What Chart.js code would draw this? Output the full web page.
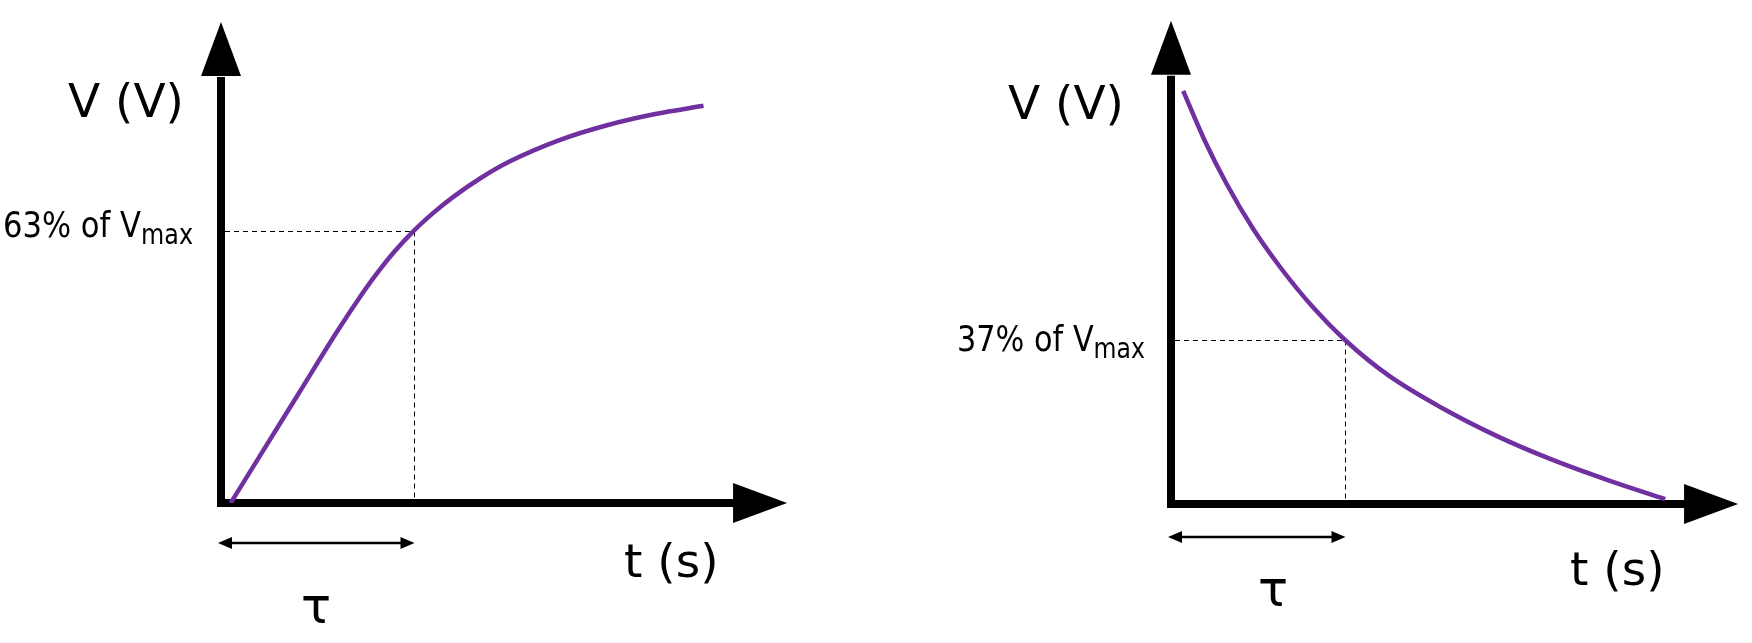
<!DOCTYPE html>
<html><head><meta charset="utf-8">
<script src="https://cdn.jsdelivr.net/npm/chart.js@4.4.1/dist/chart.umd.min.js"></script>
<style>
html,body{margin:0;padding:0;background:#fff;}
#wrap{position:relative;width:1752px;height:643px;background:#fff;}
.c{position:absolute;top:0;width:876px;height:643px;}
</style></head><body>
<div id="wrap">
<div class="c" style="left:0"><canvas id="c1" width="876" height="643"></canvas></div>
<div class="c" style="left:876px"><canvas id="c2" width="876" height="643"></canvas></div>
</div>
<script>
// ---- data (t in units of tau, V in % of Vmax) ----
const chargeT = [0.05, 0.20, 0.40, 0.60, 0.70, 0.80, 0.90, 1.00, 1.10, 1.20, 1.35, 1.50, 1.75, 2.00, 2.25, 2.50];
const chargeV = [0, 10.8, 25.2, 39.6, 46.4, 52.7, 58.3, 63.1, 67.2, 70.8, 75.4, 79.2, 84.0, 87.5, 90.1, 92.0];
const dischargeT = [0.07, 0.19, 0.32, 0.47, 0.63, 0.82, 1.00, 1.25, 1.56, 1.88, 2.19, 2.51, 2.84];
const dischargeV = [93.2, 82.3, 72.2, 62.2, 53.3, 44.2, 37.0, 29.0, 21.6, 15.2, 10.0, 5.4, 1.1];
const tauValue = [1, 1];
const markLevels = [63, 37];
const yTitle = 'V (V)';
const xTitle = 't (s)';
const tauLabel = 'τ';
const markLabels = ['63% of V', '37% of V'];
const markSub = 'max';

const PURPLE = '#7030A0';
const FONT = '"DejaVu Sans", Verdana, sans-serif';

function diagramPlugin(cfg) {
  return {
    id: 'diagram',
    beforeDatasetsDraw(chart) {
      const ctx = chart.ctx, xs = chart.scales.x, ys = chart.scales.y;
      const ox = xs.getPixelForValue(0), oy = ys.getPixelForValue(0);
      const tx = Math.round(xs.getPixelForValue(cfg.tau)) + 0.5;
      const ly = Math.round(ys.getPixelForValue(cfg.level)) + 0.5;
      ctx.save();
      // dashed guides
      ctx.strokeStyle = '#000';
      ctx.lineWidth = 1;
      ctx.setLineDash([5, 4]);
      ctx.beginPath();
      ctx.moveTo(ox + 4, ly); ctx.lineTo(tx, ly);
      ctx.stroke();
      ctx.beginPath();
      ctx.moveTo(tx, ly); ctx.lineTo(tx, oy - 4);
      ctx.stroke();
      ctx.setLineDash([]);
      // axes
      const yBase = ys.getPixelForValue(cfg.yTip) + 54;
      const xBase = xs.getPixelForValue(cfg.xTip) - 54;
      ctx.fillStyle = '#000';
      ctx.strokeStyle = '#000';
      ctx.lineWidth = 8;
      ctx.lineCap = 'butt';
      ctx.beginPath();
      ctx.moveTo(ox, oy + 4); ctx.lineTo(ox, yBase + 1);
      ctx.moveTo(ox - 4, oy); ctx.lineTo(xBase + 1, oy);
      ctx.stroke();
      // arrowheads
      ctx.beginPath();
      ctx.moveTo(ox, yBase - 54); ctx.lineTo(ox - 20, yBase); ctx.lineTo(ox + 20, yBase); ctx.closePath();
      ctx.fill();
      ctx.beginPath();
      ctx.moveTo(xBase + 54, oy); ctx.lineTo(xBase, oy - 20); ctx.lineTo(xBase, oy + 20); ctx.closePath();
      ctx.fill();
      // tau double arrow
      const ay = oy + cfg.arrowOffset;
      const ax0 = ox - 3, ax1 = tx;
      ctx.lineWidth = 2.5;
      ctx.beginPath();
      ctx.moveTo(ax0 + 8, ay); ctx.lineTo(ax1 - 8, ay);
      ctx.stroke();
      ctx.beginPath();
      ctx.moveTo(ax0, ay); ctx.lineTo(ax0 + 14, ay - 6); ctx.lineTo(ax0 + 14, ay + 6); ctx.closePath();
      ctx.fill();
      ctx.beginPath();
      ctx.moveTo(ax1, ay); ctx.lineTo(ax1 - 14, ay - 6); ctx.lineTo(ax1 - 14, ay + 6); ctx.closePath();
      ctx.fill();
      ctx.restore();
    },
    afterDatasetsDraw(chart) {
      const ctx = chart.ctx;
      const t = cfg.text;
      ctx.save();
      ctx.fillStyle = '#000';
      ctx.textBaseline = 'alphabetic';
      ctx.textAlign = 'left';
      ctx.font = '47px ' + FONT;
      ctx.fillText(yTitle, t.yLabel[0], t.yLabel[1]);
      ctx.fillText(xTitle, t.xLabel[0], t.xLabel[1]);
      ctx.font = '50px ' + FONT;
      ctx.textAlign = 'center';
      ctx.fillText(tauLabel, t.tau[0], t.tau[1]);
      // percentage label with subscript, fitted to width
      ctx.textAlign = 'left';
      const mainF = '36px ' + FONT, subF = '28px ' + FONT;
      ctx.font = mainF; const w1 = ctx.measureText(cfg.mark).width;
      ctx.font = subF; const w2 = ctx.measureText(markSub).width;
      const sx = t.markWidth / (w1 + w2);
      ctx.translate(t.mark[0], t.mark[1]);
      ctx.scale(sx, 1);
      ctx.font = mainF; ctx.fillText(cfg.mark, 0, 0);
      ctx.font = subF; ctx.fillText(markSub, w1, 7);
      ctx.restore();
    }
  };
}

function makeChart(id, T, V, cfg) {
  return new Chart(document.getElementById(id), {
    type: 'line',
    data: {
      datasets: [{
        data: T.map((t, i) => ({ x: t, y: V[i] })),
        borderColor: PURPLE,
        borderWidth: 4.5,
        pointRadius: 0,
        fill: false,
        cubicInterpolationMode: 'monotone',
        borderCapStyle: 'butt'
      }]
    },
    options: {
      responsive: false,
      animation: false,
      devicePixelRatio: 1,
      layout: { padding: cfg.padding },
      scales: {
        x: { type: 'linear', min: 0, max: cfg.xMax, display: false },
        y: { type: 'linear', min: 0, max: cfg.yMax, display: false }
      },
      plugins: { legend: { display: false }, tooltip: { enabled: false } }
    },
    plugins: [diagramPlugin(cfg)]
  });
}

makeChart('c1', chargeT, chargeV, {
  padding: { left: 221, right: 76, top: 6.5, bottom: 140 },
  xMax: 3.0, yMax: 115,
  tau: tauValue[0], level: markLevels[0], mark: markLabels[0],
  xTip: 2.933, yTip: 111.4, arrowOffset: 40,
  text: { yLabel: [68, 117], xLabel: [624, 577], tau: [316, 623], mark: [3, 237], markWidth: 190 }
});

makeChart('c2', dischargeT, dischargeV, {
  padding: { left: 295, right: 24.2, top: 16.4, bottom: 139 },
  xMax: 3.2, yMax: 110,
  tau: tauValue[1], level: markLevels[1], mark: markLabels[1],
  xTip: 3.259, yTip: 109, arrowOffset: 33,
  text: { yLabel: [132, 119], xLabel: [694, 585], tau: [397, 606], mark: [81, 351], markWidth: 188 }
});
</script>
</body></html>
